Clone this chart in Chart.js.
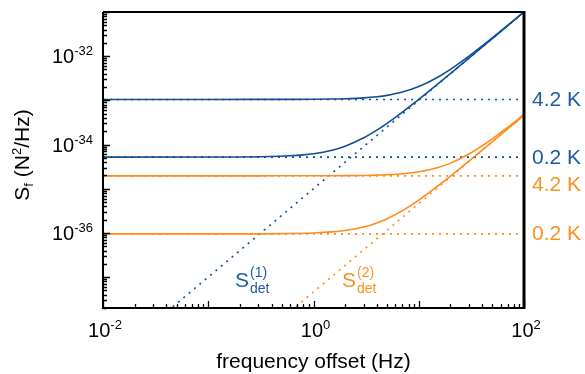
<!DOCTYPE html>
<html>
<head>
<meta charset="utf-8">
<script src="https://cdn.jsdelivr.net/npm/chart.js@4"></script>
<style>
  html, body { margin: 0; padding: 0; background: #fff; }
  #wrap { width: 585px; height: 374px; position: relative; }
</style>
</head>
<body>
<div id="wrap"><canvas id="chart"></canvas></div>
<script>
// force noise spectra S_f (N^2/Hz) vs frequency offset (Hz)

const freqs = [0.01, 0.1, 0.3, 0.6, 1, 1.5, 2, 3, 4, 5, 7, 10, 15, 20, 30, 50, 70, 100];

// total spectra (solid lines)
const blueHot  = [1.05e-33, 1.05e-33, 1.051e-33, 1.054e-33, 1.06e-33, 1.07e-33, 1.09e-33, 1.14e-33, 1.21e-33, 1.30e-33, 1.54e-33, 2.05e-33, 3.3e-33, 5.05e-33, 1.005e-32, 2.6e-32, 5.0e-32, 1.01e-31];
const blueCold = [5.2e-35, 5.21e-35, 5.29e-35, 5.56e-35, 6.2e-35, 7.45e-35, 9.2e-35, 1.42e-34, 2.12e-34, 3.02e-34, 5.42e-34, 1.05e-33, 2.30e-33, 4.05e-33, 9.05e-33, 2.505e-32, 4.905e-32, 1.0005e-31];
const orangeHot  = [1.96e-35, 1.96e-35, 1.96e-35, 1.962e-35, 1.965e-35, 1.97e-35, 1.978e-35, 2.0e-35, 2.03e-35, 2.075e-35, 2.185e-35, 2.42e-35, 2.995e-35, 3.8e-35, 6.1e-35, 1.346e-34, 2.45e-34, 4.8e-34];
const orangeCold = [9.5e-37, 9.5e-37, 9.54e-37, 9.67e-37, 9.96e-37, 1.054e-36, 1.134e-36, 1.364e-36, 1.686e-36, 2.10e-36, 3.20e-36, 5.55e-36, 1.13e-35, 1.935e-35, 4.235e-35, 1.16e-34, 2.26e-34, 4.61e-34];

// thermal floors (dotted horizontal lines)
const floorFreqs = [0.01, 100];
const blueHotFloor = [1.05e-33, 1.05e-33];
const blueColdFloor = [5.2e-35, 5.2e-35];
const orangeHotFloor = [1.96e-35, 1.96e-35];
const orangeColdFloor = [9.5e-37, 9.5e-37];

// detection noise (dotted diagonal lines)
const detFreqs = [0.01, 100];
const det1 = [1e-39, 1e-31];
const det2 = [4.6e-42, 4.6e-34];

const xTickValues = [0.01, 1, 100];
const xTickExps = ['-2', '0', '2'];
const yTickValues = [1e-36, 1e-34, 1e-32];
const yTickExps = ['-36', '-34', '-32'];
const tempLabels = ['4.2 K', '0.2 K', '4.2 K', '0.2 K'];

const BLUE = '#0f4f97';
const BLUE_TEXT = '#1a5c9f';
const ORANGE = '#ff8c1a';
const ORANGE_TEXT = '#f8921f';
const FONT = "'Liberation Sans', Arial, sans-serif";

function pts(xs, ys) {
    return xs.map((x, i) => ({ x: x, y: ys[i] }));
}

function solid(data, color) {
    return {
        data: pts(freqs, data),
        borderColor: color,
        borderWidth: 1.6,
        pointRadius: 0,
        cubicInterpolationMode: 'monotone',
        order: 0
    };
}

function dotted(xs, data, color) {
    return {
        data: pts(xs, data),
        borderColor: color,
        borderWidth: 1.6,
        borderDash: [2, 5],
        pointRadius: 0,
        order: 1
    };
}

// draws text with sub/superscript pieces; parts = [{t, size, dy}]
function drawRich(ctx, parts, x, y, align, color) {
    let widths = parts.map(p => {
        ctx.font = p.size + 'px ' + FONT;
        return ctx.measureText(p.t).width;
    });
    let total = widths.reduce((a, b) => a + b, 0);
    let cx = x;
    if (align === 'center') cx = x - total / 2;
    if (align === 'right') cx = x - total;
    ctx.fillStyle = color || '#000';
    ctx.textAlign = 'left';
    ctx.textBaseline = 'alphabetic';
    parts.forEach((p, i) => {
        ctx.font = p.size + 'px ' + FONT;
        ctx.fillText(p.t, cx, y + (p.dy || 0));
        cx += widths[i];
    });
}

const framePlugin = {
    id: 'frame',
    afterDraw(chart) {
        const { ctx, chartArea: a, scales: { x, y } } = chart;
        ctx.save();

        // inward ticks
        ctx.strokeStyle = '#000';
        ctx.lineWidth = 1.3;
        ctx.beginPath();
        for (let d = -2; d <= 2; d++) {
            for (let k = 1; k < 10; k++) {
                const v = k * Math.pow(10, d);
                if (v > 100) break;
                const px = Math.round(x.getPixelForValue(v)) + 0.5;
                const len = k === 1 ? 7 : 4;
                ctx.moveTo(px, a.bottom);
                ctx.lineTo(px, a.bottom - len);
            }
        }
        for (let d = -38; d <= -31; d++) {
            for (let k = 1; k < 10; k++) {
                const v = k * Math.pow(10, d);
                if (v < 2e-38 || v > 1.0001e-31) continue;
                const py = Math.round(y.getPixelForValue(v)) + 0.5;
                const len = k === 1 ? 7 : 4;
                ctx.moveTo(a.left, py);
                ctx.lineTo(a.left + len, py);
            }
        }
        ctx.stroke();

        // frame
        ctx.lineWidth = 2;
        ctx.beginPath();
        ctx.moveTo(a.left, a.top);
        ctx.lineTo(a.right, a.top);
        ctx.moveTo(a.left, a.top);
        ctx.lineTo(a.left, a.bottom);
        ctx.lineTo(a.right, a.bottom);
        ctx.stroke();
        ctx.lineWidth = 3;
        ctx.beginPath();
        ctx.moveTo(a.right, a.top - 1);
        ctx.lineTo(a.right, a.bottom + 1);
        ctx.stroke();

        // tick labels
        xTickValues.forEach((v, i) => {
            const px = x.getPixelForValue(v);
            drawRich(ctx, [{ t: '10', size: 20 }, { t: xTickExps[i], size: 13, dy: -8 }], px + 2, 337, 'center');
        });
        yTickValues.forEach((v, i) => {
            const py = y.getPixelForValue(v);
            drawRich(ctx, [{ t: '10', size: 20 }, { t: yTickExps[i], size: 13, dy: -8 }], 93, py + 7, 'right');
        });

        // axis titles
        drawRich(ctx, [{ t: 'frequency offset (Hz)', size: 21 }], (a.left + a.right) / 2, 368, 'center');
        ctx.save();
        ctx.translate(29, 155);
        ctx.rotate(-Math.PI / 2);
        drawRich(ctx, [
            { t: 'S', size: 21 }, { t: 'f', size: 13, dy: 4 },
            { t: ' (N', size: 21 }, { t: '2', size: 13, dy: -8 },
            { t: '/Hz)', size: 21 }
        ], 0, 0, 'center');
        ctx.restore();

        // temperature labels at right
        const floorVals = [blueHotFloor[0], blueColdFloor[0], orangeHotFloor[0], orangeColdFloor[0]];
        const shifts = [7, 7, 15, 6];
        tempLabels.forEach((t, i) => {
            const py = y.getPixelForValue(floorVals[i]);
            drawRich(ctx, [{ t: t, size: 21 }], a.right + 8, py + shifts[i], 'left', i < 2 ? BLUE_TEXT : ORANGE_TEXT);
        });

        // detection noise labels
        const det = (label, lx, color) => {
            ctx.font = '21px ' + FONT;
            const sw = ctx.measureText('S').width;
            drawRich(ctx, [{ t: 'S', size: 21 }], lx, 287, 'left', color);
            drawRich(ctx, [{ t: label, size: 14 }], lx + sw + 1, 277, 'left', color);
            drawRich(ctx, [{ t: 'det', size: 14 }], lx + sw + 1, 293, 'left', color);
        };
        det('(1)', 235, BLUE_TEXT);
        det('(2)', 342, ORANGE_TEXT);

        ctx.restore();
    }
};

new Chart(document.getElementById('chart'), {
    type: 'line',
    data: {
        datasets: [
            solid(blueHot, BLUE),
            solid(blueCold, BLUE),
            solid(orangeHot, ORANGE),
            solid(orangeCold, ORANGE),
            dotted(floorFreqs, blueHotFloor, BLUE),
            dotted(floorFreqs, blueColdFloor, BLUE),
            dotted(floorFreqs, orangeHotFloor, ORANGE),
            dotted(floorFreqs, orangeColdFloor, ORANGE),
            dotted(detFreqs, det1, BLUE),
            dotted(detFreqs, det2, ORANGE)
        ]
    },
    options: {
        responsive: true,
        maintainAspectRatio: false,
        animation: false,
        devicePixelRatio: 1,
        layout: { padding: { left: 103, right: 61, top: 12, bottom: 66 } },
        plugins: { legend: { display: false }, tooltip: { enabled: false } },
        scales: {
            x: { type: 'logarithmic', min: 0.01, max: 100, display: false },
            y: { type: 'logarithmic', min: 2e-38, max: 1e-31, display: false }
        }
    },
    plugins: [framePlugin]
});
</script>
</body>
</html>
